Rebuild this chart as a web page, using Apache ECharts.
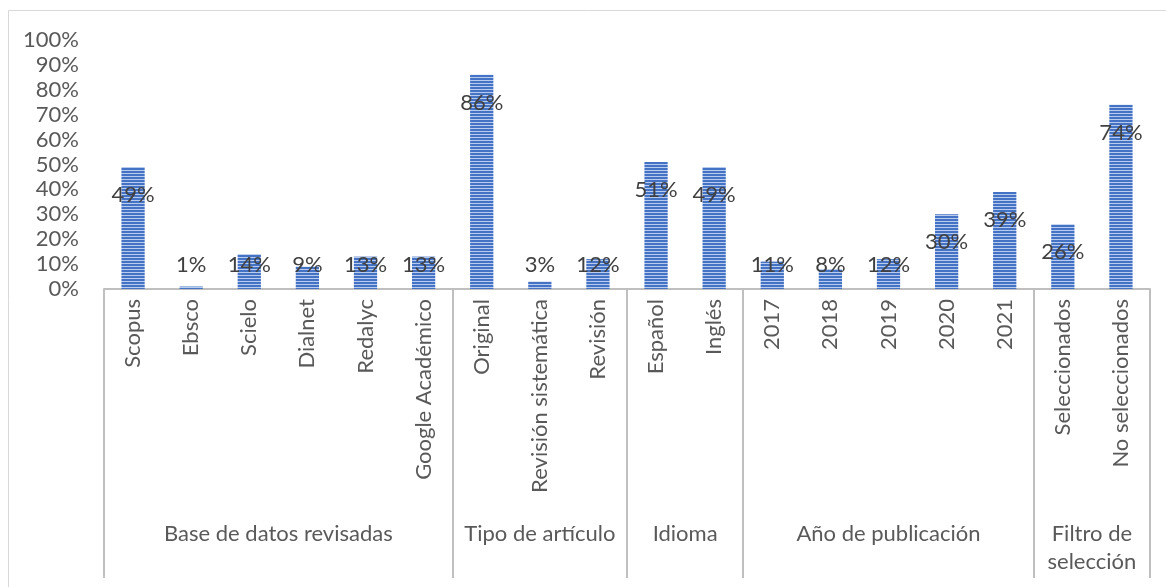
<!DOCTYPE html>
<html>
<head>
<meta charset="utf-8">
<script src="https://cdn.jsdelivr.net/npm/echarts@6/dist/echarts.min.js"></script>
<style>
html,body{margin:0;padding:0;background:#fff;}
#chart{width:1166px;height:587px;}
</style>
</head>
<body>
<div id="chart"></div>
<script>
const categories = ['Scopus','Ebsco','Scielo','Dialnet','Redalyc','Google Académico','Original','Revisión sistemática','Revisión','Español','Inglés','2017','2018','2019','2020','2021','Seleccionados','No seleccionados'];
const values = [49, 1, 14, 9, 13, 13, 86, 3, 12, 51, 49, 11, 8, 12, 30, 39, 26, 74];
const groupNames = ['Base de datos revisadas','Tipo de artículo','Idioma','Año de publicación','Filtro de\nselección'];
const groupSizes = [6, 3, 2, 5, 2];
const yMin = 0, yMax = 100, yStep = 10;

// half-step positions for the group axis (0, 0.5, 1, ... n)
const n = categories.length;
const halfSteps = [];
for (let j = 0; j <= 2 * n; j++) halfSteps.push(String(j));
const boundaryIdx = new Set([0]);
const centerByIdx = {};
let acc = 0;
groupSizes.forEach(function (s, g) {
  centerByIdx[2 * acc + s] = groupNames[g];
  acc += s;
  boundaryIdx.add(2 * acc);
});

// striped pattern
const pc = document.createElement('canvas');
pc.width = 4; pc.height = 3;
const pctx = pc.getContext('2d');
pctx.fillStyle = '#4472C4'; pctx.fillRect(0, 0, 4, 2);
pctx.fillStyle = '#b9cbec'; pctx.fillRect(0, 2, 4, 1);

const FONT = 'Lato';
const FS = 22;
const chart = echarts.init(document.getElementById('chart'), null, {renderer: 'canvas'});
chart.setOption({
  backgroundColor: '#ffffff',
  animation: false,
  graphic: [{
    type: 'rect', silent: true,
    shape: {x: 8.5, y: 10.5, width: 1200, height: 700},
    style: {fill: 'none', stroke: '#d9d9d9', lineWidth: 1}
  }],
  grid: {left: 104, right: 16, top: 40, bottom: 298, containLabel: false},
  xAxis: [{
    type: 'category',
    data: categories,
    axisLine: {show: true, lineStyle: {color: '#bfbfbf', width: 2}},
    axisTick: {show: false},
    axisLabel: {rotate: 90, margin: 10, color: '#595959', fontSize: FS, fontFamily: FONT, interval: 0}
  }, {
    type: 'category',
    boundaryGap: false,
    position: 'bottom',
    data: halfSteps,
    axisLine: {show: false},
    axisTick: {
      show: true, length: 289,
      interval: function (idx) { return boundaryIdx.has(idx); },
      lineStyle: {color: '#bfbfbf', width: 2}
    },
    axisLabel: {
      interval: function (idx) { return centerByIdx[idx] !== undefined; },
      formatter: function (v, idx) { return centerByIdx[idx] || ''; },
      margin: 231, lineHeight: 28, color: '#595959', fontSize: FS, fontFamily: FONT, align: 'center'
    }
  }],
  yAxis: {
    type: 'value',
    min: yMin, max: yMax, interval: yStep,
    axisLine: {show: false},
    axisTick: {show: false},
    splitLine: {show: false},
    axisLabel: {formatter: '{value}%', margin: 25, color: '#595959', fontSize: FS, fontFamily: FONT}
  },
  series: [{
    type: 'bar',
    xAxisIndex: 0,
    data: values,
    barWidth: '40%',
    itemStyle: {color: {image: pc, repeat: 'repeat'}},
    label: {
      show: true, position: 'inside', formatter: '{c}%',
      color: '#404040', fontSize: FS, fontFamily: FONT
    },
    labelLayout: function (p) {
      const r = p.rect;
      const y = Math.min(r.y + 28, r.y + r.height - 24);
      return {x: r.x + r.width / 2, y: y, align: 'center', verticalAlign: 'middle'};
    }
  }]
});
</script>
</body>
</html>
